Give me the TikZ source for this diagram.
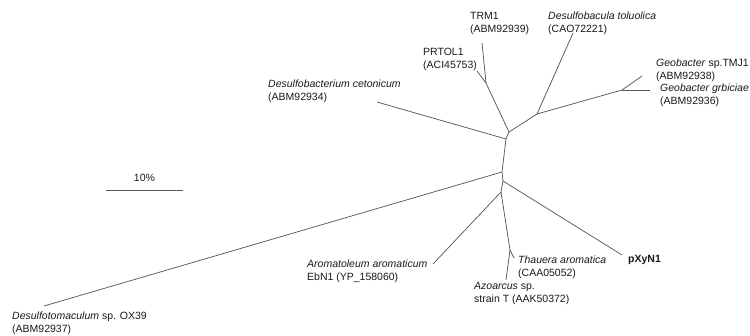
\documentclass[tikz,border=0pt]{standalone}
\usepackage{fontspec}
\setmainfont{Liberation Sans}
\begin{document}
\begin{tikzpicture}[x=1pt,y=-1pt,
  branch/.style={draw=black!65,line width=0.75pt},
  lab/.style={anchor=west,inner sep=0pt,align=left,font=\fontsize{10.5}{12.6}\selectfont,text=black!90}]
\useasboundingbox (0,0) rectangle (750,335);
% internal nodes
\coordinate (n1) at (486,83);
\coordinate (n2) at (509,132);
\coordinate (n3) at (537,114);
\coordinate (n4) at (622,90);
\coordinate (n5) at (506,139);
\coordinate (n6) at (502,172);
\coordinate (n7) at (503,181);
\coordinate (n8) at (501,192);
\coordinate (n9) at (510,250);
% leaves
\coordinate (trm) at (482,43);
\coordinate (prt) at (477,71);
\coordinate (dtol) at (573,33);
\coordinate (tmj) at (642,76);
\coordinate (grb) at (650,90);
\coordinate (dcet) at (377,102);
\coordinate (dox) at (44,306);
\coordinate (pxy) at (622,255);
\coordinate (aro) at (433,264);
\coordinate (tha) at (514,258);
\coordinate (azo) at (506,280);
% branches
\draw[branch] (trm) -- (n1) -- (n2) -- (n5) -- (n6) -- (n7) -- (n8) -- (n9) -- (azo);
\draw[branch] (n1) -- (prt);
\draw[branch] (n2) -- (n3) -- (dtol);
\draw[branch] (n3) -- (n4) -- (tmj);
\draw[branch] (n4) -- (grb);
\draw[branch] (n5) -- (dcet);
\draw[branch] (n6) -- (dox);
\draw[branch] (n7) -- (pxy);
\draw[branch] (n8) -- (aro);
\draw[branch] (n9) -- (tha);
% labels
\node[lab] (ltrm) at (470,23.5) {TRM1\\(ABM92939)};
\node[lab] (ldtol) at (548,23.5) {\textit{Desulfobacula toluolica}\\(CAO72221)};
\node[lab] (lprt) at (423,59.5) {PRTOL1\\(ACI45753)};
\node[lab] (ldcet) at (268,91) {\textit{Desulfobacterium cetonicum}\\(ABM92934)};
\node[lab] (ltmj) at (656,70.5) {\textit{Geobacter} sp.TMJ1\\(ABM92938)};
\node[lab] (lgrb) at (660,95.5) {\textit{Geobacter grbiciae}\\(ABM92936)};
\node[lab] (lpxy) at (628,260) {\textbf{pXyN1}};
\node[lab] (ltha) at (518,267.5) {\textit{Thauera aromatica}\\(CAA05052)};
\node[lab] (lazo) at (474,293.5) {\textit{Azoarcus} sp.\\strain T (AAK50372)};
\node[lab] (laro) at (307,271) {\textit{Aromatoleum aromaticum}\\EbN1 (YP\_158060)};
\node[lab] (ldox) at (12,323.5) {\textit{Desulfotomaculum} sp. OX39\\(ABM92937)};
% scale bar
\coordinate (s1) at (106,190);
\coordinate (s2) at (183,190);
\draw[branch] (s1) -- (s2);
\node[lab,anchor=center] (lscale) at (144.5,178) {10\%};
\end{tikzpicture}
\end{document}
